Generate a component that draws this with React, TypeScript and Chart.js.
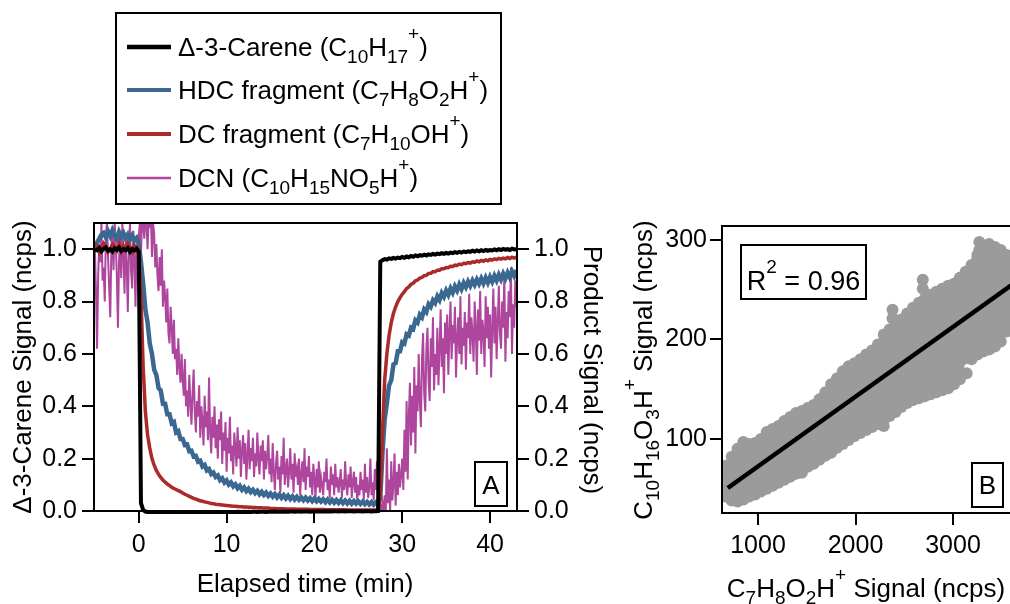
import React, { useEffect, useRef } from "react";
import { Chart, registerables } from "chart.js";

Chart.register(...registerables);

const FONT = '"Liberation Sans", Arial, Helvetica, sans-serif';

// ---------- Panel A data ----------
// sampling grid: start at -5 min; carene / HDC / DC every 0.25 min, DCN every 0.125 min
const T0 = -5;
const DT = 0.25;
const DT_DCN = 0.125;

const timeTicks = [0, 10, 20, 30, 40];
const signalTicks = [0, 0.2, 0.4, 0.6, 0.8, 1.0];

const carene = [
  1.0, 0.996, 1.004, 0.992, 1.001, 1.007, 0.995, 1.0, 0.991, 1.003, 0.997, 1.006, 0.993, 1.0, 0.996, 1.004, 0.99, 1.001, 0.995, 1.002,
  0.99, 0.03, 0.004, -0.002, -0.004, -0.005, -0.005, -0.006, -0.005, -0.006, -0.005, -0.006, -0.006, -0.005, -0.006, -0.006, -0.005, -0.006, -0.006, -0.005,
  -0.006, -0.005, -0.005, -0.006, -0.005, -0.005, -0.006, -0.005, -0.005, -0.004, -0.005, -0.005, -0.004, -0.005, -0.005, -0.004, -0.005, -0.004, -0.004, -0.005,
  -0.004, -0.004, -0.005, -0.004, -0.004, -0.003, -0.004, -0.004, -0.003, -0.004, -0.003, -0.004, -0.003, -0.003, -0.004, -0.003, -0.003, -0.003, -0.004, -0.003,
  -0.003, -0.003, -0.002, -0.003, -0.003, -0.002, -0.003, -0.002, -0.003, -0.002, -0.002, -0.003, -0.002, -0.002, -0.003, -0.002, -0.002, -0.002, -0.003, -0.002,
  -0.002, -0.002, -0.001, -0.002, -0.002, -0.001, -0.002, -0.001, -0.002, -0.001, -0.001, -0.002, -0.001, -0.001, -0.002, -0.001, -0.001, -0.001, -0.002, -0.001,
  -0.001, -0.001, -0.002, -0.001, -0.001, -0.001, -0.002, -0.001, -0.001, 0.0, 0.952, 0.958, 0.962, 0.96, 0.965, 0.963, 0.967, 0.964, 0.968, 0.966,
  0.97, 0.967, 0.972, 0.969, 0.974, 0.971, 0.976, 0.973, 0.977, 0.975, 0.979, 0.976, 0.98, 0.978, 0.982, 0.979, 0.983, 0.981, 0.985, 0.982,
  0.986, 0.983, 0.987, 0.985, 0.989, 0.986, 0.99, 0.987, 0.991, 0.989, 0.992, 0.99, 0.994, 0.991, 0.995, 0.992, 0.996, 0.993, 0.997, 0.994,
  0.997, 0.995, 0.999, 0.996, 1.0, 0.997, 1.001, 0.998, 1.0, 0.997, 1.002, 0.999, 1.0,
];

const hdcFragment = [
  1.0, 1.025, 1.04, 1.055, 1.062, 1.045, 1.068, 1.05, 1.072, 1.052, 1.04, 1.066, 1.048, 1.062, 1.042, 1.056, 1.038, 1.052, 1.032, 1.042,
  1.02, 0.95, 0.87, 0.77, 0.72, 0.64, 0.6, 0.54, 0.52, 0.47, 0.46, 0.41, 0.41, 0.37, 0.37, 0.335, 0.34, 0.3, 0.305, 0.275,
  0.275, 0.252, 0.254, 0.228, 0.23, 0.208, 0.21, 0.188, 0.192, 0.17, 0.176, 0.155, 0.16, 0.141, 0.147, 0.13, 0.136, 0.118, 0.125, 0.109,
  0.117, 0.101, 0.109, 0.094, 0.102, 0.087, 0.096, 0.081, 0.09, 0.076, 0.085, 0.072, 0.081, 0.068, 0.077, 0.064, 0.073, 0.061, 0.07, 0.058,
  0.067, 0.055, 0.065, 0.052, 0.062, 0.05, 0.06, 0.048, 0.058, 0.046, 0.056, 0.044, 0.054, 0.043, 0.052, 0.041, 0.051, 0.04, 0.049, 0.038,
  0.048, 0.037, 0.046, 0.036, 0.045, 0.034, 0.044, 0.033, 0.043, 0.032, 0.042, 0.031, 0.041, 0.03, 0.04, 0.029, 0.039, 0.028, 0.038, 0.028,
  0.037, 0.027, 0.036, 0.026, 0.035, 0.025, 0.034, 0.024, 0.033, 0.025, 0.05, 0.22, 0.35, 0.41, 0.48, 0.5, 0.56, 0.565, 0.61, 0.61,
  0.645, 0.64, 0.675, 0.67, 0.7, 0.695, 0.728, 0.72, 0.75, 0.74, 0.77, 0.76, 0.79, 0.78, 0.805, 0.795, 0.82, 0.806, 0.832, 0.818,
  0.842, 0.826, 0.85, 0.834, 0.858, 0.842, 0.865, 0.848, 0.871, 0.855, 0.876, 0.86, 0.88, 0.864, 0.884, 0.868, 0.888, 0.87, 0.891, 0.872,
  0.894, 0.876, 0.898, 0.88, 0.902, 0.884, 0.906, 0.888, 0.91, 0.892, 0.915, 0.898, 0.92,
];

const dcFragment = [
  1.02, 1.012, 0.99, 1.005, 1.022, 1.01, 0.988, 1.0, 1.018, 1.008, 0.996, 1.02, 0.992, 1.012, 1.0, 1.022, 1.006, 0.99, 1.014, 1.004,
  1.0, 0.82, 0.55, 0.38, 0.29, 0.24, 0.2, 0.175, 0.155, 0.14, 0.128, 0.118, 0.11, 0.103, 0.097, 0.091, 0.086, 0.082, 0.078, 0.074,
  0.069, 0.064, 0.06, 0.056, 0.052, 0.048, 0.045, 0.042, 0.039, 0.037, 0.035, 0.033, 0.031, 0.029, 0.028, 0.026, 0.025, 0.024, 0.023, 0.022,
  0.021, 0.02, 0.019, 0.018, 0.018, 0.017, 0.016, 0.016, 0.015, 0.015, 0.014, 0.014, 0.013, 0.013, 0.012, 0.012, 0.012, 0.011, 0.011, 0.011,
  0.01, 0.01, 0.01, 0.009, 0.009, 0.009, 0.009, 0.008, 0.008, 0.008, 0.008, 0.008, 0.007, 0.007, 0.007, 0.007, 0.007, 0.007, 0.006, 0.006,
  0.006, 0.006, 0.006, 0.006, 0.006, 0.005, 0.005, 0.005, 0.005, 0.005, 0.005, 0.005, 0.005, 0.005, 0.005, 0.004, 0.004, 0.004, 0.004, 0.004,
  0.004, 0.004, 0.004, 0.004, 0.004, 0.004, 0.004, 0.004, 0.004, 0.004, 0.06, 0.3, 0.5, 0.6, 0.67, 0.72, 0.755, 0.78, 0.8, 0.815,
  0.828, 0.838, 0.85, 0.856, 0.866, 0.87, 0.879, 0.882, 0.89, 0.892, 0.899, 0.9, 0.907, 0.908, 0.914, 0.914, 0.92, 0.92, 0.925, 0.925,
  0.93, 0.929, 0.935, 0.934, 0.939, 0.938, 0.943, 0.941, 0.946, 0.945, 0.949, 0.947, 0.952, 0.95, 0.955, 0.952, 0.957, 0.954, 0.959, 0.956,
  0.961, 0.958, 0.963, 0.96, 0.965, 0.962, 0.966, 0.963, 0.968, 0.964, 0.969, 0.966, 0.97,
];

const dcn = [
  // -5 .. -0.125
  1.0, 0.84, 0.62, 0.9, 1.02, 0.95, 1.1, 0.88, 0.93, 0.8, 1.05, 1.1, 0.97, 0.86, 0.74, 0.99, 1.08, 0.92, 1.1, 1.03,
  0.9, 0.7, 0.95, 1.06, 0.89, 1.1, 0.98, 0.83, 1.04, 0.94, 0.76, 1.0, 1.1, 0.91, 0.85, 1.07, 0.97, 0.78, 1.02, 0.93,
  // 0 .. 4.875
  1.05, 1.1, 0.98, 1.12, 1.1, 1.04, 1.13, 1.1, 1.0, 1.12, 1.08, 1.13, 0.97, 1.1, 1.06, 0.93,
  1.02, 0.9, 0.84, 0.97, 0.86, 1.0, 0.78, 0.88, 0.82, 0.72, 0.85, 0.68, 0.64, 0.78, 0.7, 0.6,
  0.73, 0.58, 0.62, 0.52, 0.66, 0.55, 0.49, 0.6,
  // 5 .. 9.875
  0.5, 0.44, 0.58, 0.4, 0.46, 0.36, 0.52, 0.42, 0.33, 0.45, 0.54, 0.38, 0.3, 0.42, 0.36, 0.48,
  0.28, 0.4, 0.34, 0.25, 0.44, 0.32, 0.38, 0.27, 0.51, 0.3, 0.22, 0.36, 0.28, 0.4, 0.24, 0.33,
  0.2, 0.35, 0.27, 0.38, 0.18, 0.3, 0.23, 0.34,
  // 10 .. 14.875
  0.15, 0.28, 0.22, 0.36, 0.19, 0.25, 0.14, 0.3, 0.24, 0.17, 0.32, 0.2, 0.27, 0.13, 0.23, 0.29,
  0.18, 0.26, 0.12, 0.21, 0.31, 0.16, 0.24, 0.19, 0.28, 0.13, 0.22, 0.17, 0.3, 0.2, 0.14, 0.25,
  0.19, 0.27, 0.12, 0.23, 0.16, 0.21, 0.29, 0.14,
  // 15 .. 19.875
  0.2, 0.11, 0.26, 0.15, 0.08, 0.18, 0.23, 0.12, 0.17, 0.07, 0.21, 0.14, 0.28, 0.1, 0.16, 0.2,
  0.09, 0.15, 0.24, 0.12, 0.18, 0.07, 0.22, 0.13, 0.16, 0.1, 0.2, 0.06, 0.14, 0.19, 0.11, 0.24,
  0.08, 0.17, 0.13, 0.21, 0.09, 0.15, 0.06, 0.18,
  // 20 .. 24.875
  0.12, 0.05, 0.16, 0.09, 0.19, 0.07, 0.13, 0.1, 0.06, 0.15, 0.11, 0.2, 0.08, 0.12, 0.05, 0.17,
  0.1, 0.14, 0.06, 0.18, 0.09, 0.13, 0.07, 0.11, 0.16, 0.05, 0.12, 0.08, 0.19, 0.1, 0.06, 0.14,
  0.09, 0.17, 0.05, 0.11, 0.15, 0.07, 0.13, 0.04,
  // 25 .. 29.875
  0.1, 0.06, 0.15, 0.08, 0.12, 0.04, 0.18, 0.07, 0.13, 0.05, 0.09, 0.2, 0.06, 0.11, 0.04, 0.16,
  0.08, 0.19, 0.05, 0.1, 0.02, -0.01, 0.03, 0.0, 0.06, -0.01, 0.24, 0.03, 0.12, 0.0, 0.19, 0.04,
  0.1, 0.22, 0.02, 0.15, 0.06, 0.18, 0.09, 0.14,
  // 30 .. 34.875
  0.2, 0.08, 0.31, 0.15, 0.42, 0.12, 0.36, 0.49, 0.25, 0.44, 0.3, 0.55, 0.22, 0.48, 0.38, 0.6,
  0.42, 0.32, 0.58, 0.68, 0.45, 0.38, 0.62, 0.7, 0.5, 0.42, 0.66, 0.55, 0.74, 0.46, 0.6, 0.52,
  0.7, 0.48, 0.62, 0.77, 0.55, 0.66, 0.45, 0.72,
  // 35 .. 39.875
  0.6, 0.75, 0.52, 0.68, 0.8, 0.58, 0.71, 0.64, 0.78, 0.51, 0.66, 0.74, 0.6, 0.82, 0.56, 0.7,
  0.63, 0.76, 0.54, 0.72, 0.66, 0.83, 0.6, 0.74, 0.68, 0.57, 0.8, 0.7, 0.52, 0.77, 0.65, 0.84,
  0.6, 0.73, 0.69, 0.55, 0.82, 0.66, 0.78, 0.62,
  // 40 .. 43
  0.75, 0.51, 0.7, 0.85, 0.64, 0.78, 0.58, 0.72, 0.86, 0.68, 0.62, 0.8, 0.7, 0.9, 0.57, 0.76,
  0.66, 0.84, 0.74, 0.93, 0.6, 0.79, 0.7, 0.88, 0.78,
];

const seriesLabels = [
  "Δ-3-Carene (C_{10}H_{17}^{+})",
  "HDC fragment (C_{7}H_{8}O_{2}H^{+})",
  "DC fragment (C_{7}H_{10}OH^{+})",
  "DCN (C_{10}H_{15}NO_{5}H^{+})",
];
const seriesColors = ["#000000", "#3b6891", "#ab2a2a", "#ae469e"];
const seriesWidths = [4, 4.5, 3.5, 2];

// ---------- Panel B data (columns of x with their y values) ----------
const scatterXTicks = [1000, 2000, 3000];
const scatterYTicks = [100, 200, 300];

const scatterX = [
  670, 730, 790, 850, 910, 970, 1030, 1090, 1150, 1210, 1270, 1330, 1390, 1450, 1510, 1570, 1630, 1690, 1750, 1810,
  1870, 1930, 1990, 2050, 2110, 2170, 2230, 2290, 2350, 2380, 2410, 2470, 2530, 2590, 2650, 2690, 2710, 2770, 2830, 2890,
  2950, 3010, 3070, 3130, 3140, 3190, 3250, 3270, 3310, 3370, 3430, 3490, 3550, 3610,
];
const scatterY = [
  [42, 50, 58, 66, 73],
  [38, 46, 55, 64, 73, 82],
  [37, 45, 54, 63, 72, 81, 90],
  [39, 47, 56, 65, 74, 83, 91, 97],
  [42, 50, 59, 68, 77, 86, 95],
  [44, 52, 61, 70, 79, 88, 96],
  [47, 55, 64, 73, 82, 91, 100],
  [50, 58, 67, 76, 85, 94, 103, 107],
  [53, 61, 70, 79, 88, 97, 105, 110],
  [56, 64, 73, 82, 91, 100, 108, 113],
  [59, 67, 76, 85, 94, 103, 111, 118],
  [62, 70, 79, 88, 97, 106, 115, 122],
  [65, 73, 82, 91, 100, 109, 118, 126],
  [66, 76, 85, 94, 103, 112, 121, 128],
  [72, 80, 89, 98, 107, 116, 124, 131],
  [75, 83, 92, 101, 110, 119, 127, 134],
  [79, 87, 96, 105, 114, 123, 132, 140],
  [83, 91, 100, 109, 118, 127, 136, 144, 147],
  [86, 94, 103, 112, 121, 130, 139, 148, 155],
  [91, 99, 108, 117, 126, 135, 144, 153, 161],
  [95, 103, 112, 121, 130, 139, 148, 157, 166, 168],
  [99, 107, 116, 125, 134, 143, 152, 161, 170, 173],
  [103, 111, 120, 129, 138, 147, 156, 165, 172, 176],
  [106, 114, 123, 132, 141, 150, 159, 168, 176, 180],
  [109, 117, 126, 135, 144, 153, 162, 171, 179, 185],
  [112, 120, 129, 138, 147, 156, 165, 174, 182, 189],
  [115, 123, 132, 141, 150, 159, 168, 177, 186, 195],
  [113, 119, 127, 136, 145, 154, 163, 172, 181, 190, 198, 205],
  [123, 131, 140, 149, 158, 167, 176, 185, 194, 202, 210],
  [230, 221],
  [127, 135, 144, 153, 162, 171, 180, 189, 198, 206, 214],
  [132, 140, 149, 158, 167, 176, 185, 194, 203, 212, 220],
  [136, 144, 153, 162, 171, 180, 189, 198, 207, 216, 226],
  [139, 147, 156, 165, 174, 183, 192, 201, 210, 219, 228, 232],
  [141, 149, 158, 167, 176, 185, 194, 203, 212, 221, 230, 237],
  [260, 251],
  [143, 151, 160, 169, 178, 187, 196, 205, 214, 223, 232, 241],
  [145, 153, 162, 171, 180, 189, 198, 207, 216, 225, 234, 242, 245],
  [147, 155, 164, 173, 182, 191, 200, 209, 218, 227, 236, 244, 248],
  [149, 157, 166, 175, 184, 193, 202, 211, 220, 229, 238, 246, 251],
  [151, 159, 168, 177, 186, 195, 204, 213, 222, 231, 240, 248, 254],
  [155, 163, 172, 181, 190, 199, 208, 217, 226, 235, 244, 252, 256],
  [160, 168, 177, 186, 195, 204, 213, 222, 231, 240, 249, 257, 262],
  [181, 189, 198, 207, 216, 225, 234, 243, 252, 260, 268],
  [166],
  [180, 188, 197, 206, 215, 224, 233, 242, 251, 260, 268, 275],
  [185, 193, 202, 211, 220, 229, 238, 247, 256, 265, 274, 282, 285],
  [298, 290],
  [188, 196, 205, 214, 223, 232, 241, 250, 259, 268, 277, 286, 294],
  [190, 198, 207, 216, 225, 234, 243, 252, 261, 270, 279, 288, 296],
  [193, 201, 210, 219, 228, 237, 246, 255, 264, 273, 282, 290, 293],
  [198, 206, 215, 224, 233, 242, 251, 260, 269, 278, 286, 290],
  [208, 216, 225, 234, 243, 252, 261, 270, 278, 285],
  [216, 224, 233, 242, 251, 260, 269, 276],
];
const fitX = [690, 3620];
const fitY = [50.6, 256.0];
const rSquaredLabel = "R^{2} = 0.96";

// ---------- text helpers ----------
type Part = { t: string; k: "n" | "b" | "p" };
function parseRich(s: string): Part[] {
  const parts: Part[] = [];
  const re = /(_\{[^}]*\}|\^\{[^}]*\})/g;
  let last = 0;
  let m: RegExpExecArray | null;
  while ((m = re.exec(s))) {
    if (m.index > last) parts.push({ t: s.slice(last, m.index), k: "n" });
    parts.push({ t: m[0].slice(2, -1), k: m[0][0] === "_" ? "b" : "p" });
    last = m.index + m[0].length;
  }
  if (last < s.length) parts.push({ t: s.slice(last), k: "n" });
  return parts;
}
function drawRich(ctx: CanvasRenderingContext2D, s: string, x: number, y: number, size: number, align: "left" | "center") {
  const parts = parseRich(s);
  const small = Math.round(size * 0.72);
  const widths = parts.map((p) => {
    ctx.font = `${p.k === "n" ? size : small}px ${FONT}`;
    return ctx.measureText(p.t).width;
  });
  const total = widths.reduce((a, b) => a + b, 0);
  let cx = align === "center" ? x - total / 2 : x;
  ctx.textAlign = "left";
  ctx.textBaseline = "alphabetic";
  ctx.fillStyle = "#000";
  parts.forEach((p, i) => {
    ctx.font = `${p.k === "n" ? size : small}px ${FONT}`;
    const dy = p.k === "b" ? size * 0.28 : p.k === "p" ? -size * 0.62 : 0;
    ctx.fillText(p.t, cx, y + dy);
    cx += widths[i];
  });
}
function drawRotated(ctx: CanvasRenderingContext2D, s: string, x: number, y: number, size: number, angle: number) {
  ctx.save();
  ctx.translate(x, y);
  ctx.rotate(angle);
  drawRich(ctx, s, 0, 0, size, "center");
  ctx.restore();
}
function boxedLabel(ctx: CanvasRenderingContext2D, s: string, x: number, y: number, w: number, h: number, size: number, baseline: number) {
  ctx.save();
  ctx.strokeStyle = "#000";
  ctx.lineWidth = 2;
  ctx.strokeRect(x, y, w, h);
  drawRich(ctx, s, x + w / 2, baseline, size, "center");
  ctx.restore();
}

const tickFont = { family: FONT, size: 25 };
const axisGrid = { display: true, drawOnChartArea: false, drawTicks: true, tickLength: 12, color: "#000", lineWidth: 2 };
const axisBorder = { display: true, color: "#000", width: 2 };
const fixedTicks = (values: number[]) => (s: any) => {
  s.ticks = values.map((v) => ({ value: v }));
};

export default function App() {
  const refA = useRef<HTMLCanvasElement>(null);
  const refB = useRef<HTMLCanvasElement>(null);

  useEffect(() => {
    const times = carene.map((_, i) => T0 + i * DT);
    const dcnTimes = dcn.map((_, i) => T0 + i * DT_DCN);
    const seriesData = [carene, hdcFragment, dcFragment, dcn];
    const seriesTimes = [times, times, times, dcnTimes];
    const drawOrder = [1, 3, 2, 4];

    const pluginA = {
      id: "panelA",
      afterDatasetsDraw(chart: any) {
        const { ctx, chartArea: ca } = chart;
        ctx.save();
        ctx.strokeStyle = "#000";
        ctx.lineWidth = 2;
        ctx.strokeRect(ca.left, ca.top, ca.right - ca.left, ca.bottom - ca.top);
        // legend
        ctx.strokeRect(116, 13, 385, 191);
        const rows = [47, 90, 134, 178];
        seriesLabels.forEach((lab, i) => {
          ctx.beginPath();
          ctx.strokeStyle = seriesColors[i];
          ctx.lineWidth = i === 3 ? 2.5 : i === 0 ? 4.5 : 4;
          ctx.moveTo(127, rows[i]);
          ctx.lineTo(171, rows[i]);
          ctx.stroke();
          drawRich(ctx, lab, 178, rows[i] + 9, 26, "left");
        });
        // axis titles
        drawRotated(ctx, "Δ-3-Carene Signal (ncps)", 31, 367, 26, -Math.PI / 2);
        drawRotated(ctx, "Product Signal (ncps)", 584, 370, 26, Math.PI / 2);
        drawRich(ctx, "Elapsed time (min)", 305, 592, 26, "center");
        boxedLabel(ctx, "A", 475, 462, 32, 44, 26, 494);
        ctx.restore();
      },
    };

    const chartA = new Chart(refA.current as HTMLCanvasElement, {
      type: "line",
      data: {
        datasets: seriesData.map((vals, i) => ({
          label: seriesLabels[i],
          data: vals.map((v, j) => ({ x: seriesTimes[i][j], y: v })),
          borderColor: seriesColors[i],
          backgroundColor: seriesColors[i],
          borderWidth: seriesWidths[i],
          pointRadius: 0,
          tension: 0,
          order: drawOrder[i],
          yAxisID: "y",
          clip: i === 0 ? 3 : 0,
        })),
      },
      options: {
        responsive: false,
        animation: false,
        devicePixelRatio: 1,
        events: [],
        layout: { padding: { top: 223, left: 0, right: 0, bottom: 0 } },
        plugins: { legend: { display: false }, tooltip: { enabled: false } },
        scales: {
          x: {
            type: "linear",
            min: -5.1,
            max: 43.07,
            grid: axisGrid,
            border: axisBorder,
            afterBuildTicks: fixedTicks(timeTicks),
            ticks: { font: tickFont, color: "#000", padding: 7, maxRotation: 0, autoSkip: false },
            afterFit: (s: any) => { s.height = 93; },
          },
          y: {
            type: "linear",
            position: "left",
            min: 0,
            max: 1.1,
            grid: axisGrid,
            border: axisBorder,
            afterBuildTicks: fixedTicks(signalTicks),
            ticks: { font: tickFont, color: "#000", padding: 5, autoSkip: false, callback: (v: any) => Number(v).toFixed(1) },
            afterFit: (s: any) => { s.width = 94; },
          },
          y2: {
            type: "linear",
            position: "right",
            min: 0,
            max: 1.1,
            grid: axisGrid,
            border: axisBorder,
            afterBuildTicks: fixedTicks(signalTicks),
            ticks: { font: tickFont, color: "#000", padding: 5, autoSkip: false, callback: (v: any) => Number(v).toFixed(1) },
            afterFit: (s: any) => { s.width = 123; },
          },
        },
      } as any,
      plugins: [pluginA],
    });

    const pts: { x: number; y: number }[] = [];
    scatterX.forEach((x, i) => scatterY[i].forEach((y) => pts.push({ x, y })));

    const pluginB = {
      id: "panelB",
      afterDatasetsDraw(chart: any) {
        const { ctx, chartArea: ca } = chart;
        ctx.save();
        ctx.strokeStyle = "#000";
        ctx.lineWidth = 2;
        ctx.strokeRect(ca.left, ca.top, ca.right - ca.left, ca.bottom - ca.top);
        drawRotated(ctx, "C_{10}H_{16}O_{3}H^{+} Signal (ncps)", 32, 370, 26, -Math.PI / 2);
        drawRich(ctx, "C_{7}H_{8}O_{2}H^{+} Signal (ncps)", 246, 597, 26, "center");
        boxedLabel(ctx, rSquaredLabel, 121, 245, 125, 54, 27, 290);
        boxedLabel(ctx, "B", 352, 463, 31, 44, 26, 494);
        ctx.restore();
      },
    };

    const chartB = new Chart(refB.current as HTMLCanvasElement, {
      type: "scatter",
      data: {
        datasets: [
          {
            type: "line",
            data: fitX.map((x, i) => ({ x, y: fitY[i] })),
            borderColor: "#000",
            borderWidth: 4.5,
            pointRadius: 0,
            order: 1,
            clip: 0,
          },
          {
            type: "scatter",
            data: pts,
            backgroundColor: "#9b9b9b",
            borderWidth: 0,
            pointRadius: 6,
            order: 2,
            clip: 0,
          },
        ],
      },
      options: {
        responsive: false,
        animation: false,
        devicePixelRatio: 1,
        events: [],
        layout: { padding: { top: 226, left: 0, right: 8, bottom: 0 } },
        plugins: { legend: { display: false }, tooltip: { enabled: false } },
        scales: {
          x: {
            type: "linear",
            min: 630.8,
            max: 3605,
            grid: axisGrid,
            border: axisBorder,
            afterBuildTicks: fixedTicks(scatterXTicks),
            ticks: { font: tickFont, color: "#000", padding: 6, maxRotation: 0, autoSkip: false, callback: (v: any) => String(v) },
            afterFit: (s: any) => { s.height = 91; },
          },
          y: {
            type: "linear",
            position: "left",
            min: 25.5,
            max: 314.1,
            grid: axisGrid,
            border: axisBorder,
            afterBuildTicks: fixedTicks(scatterYTicks),
            ticks: { font: tickFont, color: "#000", padding: 3, autoSkip: false, callback: (v: any) => String(v) },
            afterFit: (s: any) => { s.width = 102; },
          },
        },
      } as any,
      plugins: [pluginB],
    });

    return () => {
      chartA.destroy();
      chartB.destroy();
    };
  }, []);

  return (
    <div style={{ position: "fixed", left: 0, top: 0, width: 1010, height: 604, overflow: "hidden", background: "#fff" }}>
      <canvas ref={refA} width={640} height={604} style={{ position: "absolute", left: 0, top: 0, width: 640, height: 604 }} />
      <canvas ref={refB} width={400} height={604} style={{ position: "absolute", left: 620, top: 0, width: 400, height: 604 }} />
    </div>
  );
}
